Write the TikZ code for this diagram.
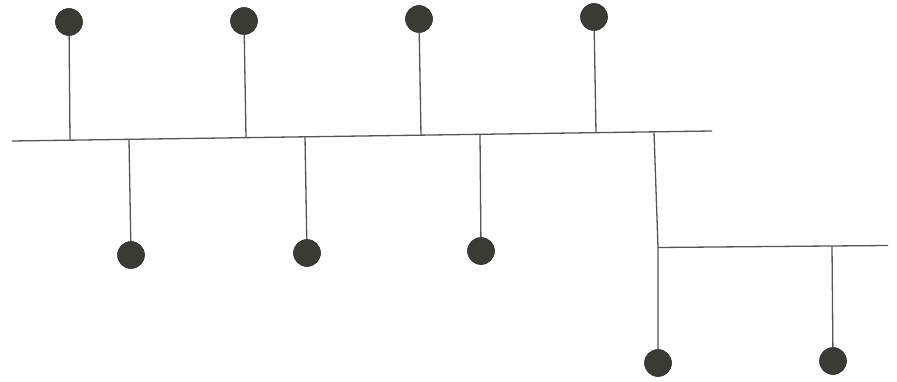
\documentclass[tikz,border=0pt]{standalone}
\begin{document}
\begin{tikzpicture}[x=1pt,y=-1pt,
  ball/.style={circle,fill=ballc,draw=ballc!80!black,line width=0.6pt,minimum size=27pt,inner sep=0pt},
  wire/.style={draw=wirec,line width=1.3pt}]
\definecolor{ballc}{HTML}{3B3B35}
\definecolor{wirec}{HTML}{555555}
\useasboundingbox (0,0) rectangle (897,382);
% main line
\coordinate (L0) at (12,141);
\coordinate (L1) at (712,131);
\coordinate (j1) at (70,140.2);
\coordinate (j2) at (246,137.7);
\coordinate (j3) at (421,135.2);
\coordinate (j4) at (596,132.7);
\coordinate (k1) at (129,139.3);
\coordinate (k2) at (305,136.8);
\coordinate (k3) at (480,134.3);
\coordinate (m1) at (654,131.8);
\coordinate (m2) at (658,247.5);
\coordinate (B1) at (888,245.5);
\coordinate (n1) at (832,246);
\draw[wire] (L0) -- (L1);
\draw[wire] (m2) -- (B1);
% balls
\node[ball] (t1) at (69,22) {};
\node[ball] (t2) at (244,21) {};
\node[ball] (t3) at (419,19) {};
\node[ball] (t4) at (594,17) {};
\node[ball] (b1) at (131,255) {};
\node[ball] (b2) at (307,253) {};
\node[ball] (b3) at (481,251) {};
\node[ball] (c1) at (658,363) {};
\node[ball] (c2) at (833,361) {};
\draw[wire] (t1) -- (j1);
\draw[wire] (t2) -- (j2);
\draw[wire] (t3) -- (j3);
\draw[wire] (t4) -- (j4);
\draw[wire] (k1) -- (b1);
\draw[wire] (k2) -- (b2);
\draw[wire] (k3) -- (b3);
\draw[wire] (m1) -- (m2) -- (c1);
\draw[wire] (n1) -- (c2);
\end{tikzpicture}
\end{document}
